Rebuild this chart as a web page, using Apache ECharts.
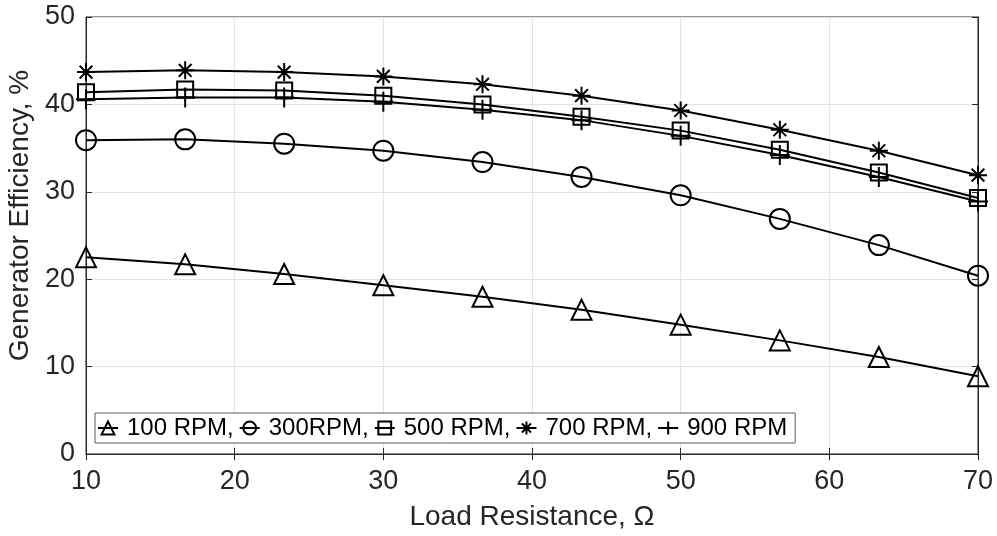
<!DOCTYPE html>
<html><head><meta charset="utf-8">
<script src="https://cdn.jsdelivr.net/npm/echarts@6/dist/echarts.min.js"></script>
<style>html,body{margin:0;padding:0;background:#fff}#c{width:997px;height:536px}</style>
</head><body><div id="c"></div>
<script>
var resistance = [10, 16.67, 23.33, 30, 36.67, 43.33, 50, 56.67, 63.33, 70];
var rpm100 = [22.5, 21.7, 20.6, 19.3, 18.0, 16.5, 14.8, 13.0, 11.1, 8.9];
var rpm300 = [35.9, 36.0, 35.5, 34.7, 33.4, 31.7, 29.6, 26.9, 23.9, 20.4];
var rpm500 = [41.4, 41.7, 41.6, 41.0, 40.0, 38.6, 37.0, 34.8, 32.2, 29.3];
var rpm700 = [43.7, 43.9, 43.7, 43.2, 42.3, 41.0, 39.3, 37.1, 34.7, 31.9];
var rpm900 = [40.6, 40.8, 40.8, 40.3, 39.4, 38.2, 36.4, 34.2, 31.7, 28.9];
var seriesNames = ['100 RPM,', '300RPM,', '500 RPM,', '700 RPM,', '900 RPM'];
var xTicks = [10, 20, 30, 40, 50, 60, 70];
var yTicks = [0, 10, 20, 30, 40, 50];

var FONT = 'Liberation Sans';
var AX = '#262626';
function pairs(v){ return resistance.map(function(x,i){return [x, v[i]];}); }
var plusPath = 'path://M0,-10L0,10M-10,0L10,0';
var starPath = 'path://M0,-10L0,10M-10,0L10,0M-7.07,-7.07L7.07,7.07M-7.07,7.07L7.07,-7.07';
function mk(name, data, symbol, size){
  return {
    name: name, type: 'line', data: pairs(data), symbol: symbol, symbolSize: size,
    showAllSymbol: true,
    lineStyle: {color: '#000', width: 2},
    itemStyle: {color: 'rgba(255,255,255,0)', borderColor: '#000', borderWidth: 2},
    emphasis: {disabled: true}, animation: false, z: 3
  };
}
var chart = echarts.init(document.getElementById('c'));
chart.setOption({
  animation: false,
  grid: {left: 86, right: 19, top: 17, bottom: 82, outerBoundsMode: 'none', containLabel: false,
    show: true, borderColor: AX, borderWidth: 1, backgroundColor: '#fff'},
  legend: {
    data: seriesNames, left: 95, top: 413, orient: 'horizontal',
    itemWidth: 20, itemHeight: 16, itemGap: 5,
    padding: [3, 8, 3, 2],
    borderColor: '#5a5a5a', borderWidth: 1, backgroundColor: '#fff',
    textStyle: {fontFamily: FONT, fontSize: 24, color: '#000', padding: [0,0,0,4]}
  },
  xAxis: [{
    type: 'value', min: 10, max: 70, interval: 10,
    name: 'Load Resistance, Ω', nameLocation: 'middle', nameGap: 49,
    nameTextStyle: {fontFamily: FONT, fontSize: 28, color: AX},
    axisLine: {show: true, lineStyle: {color: AX, width: 1}},
    axisTick: {show: true, inside: true, length: 6, lineStyle: {color: AX}},
    axisLabel: {fontFamily: FONT, fontSize: 27, color: AX, margin: 14,
      formatter: function(v){ return xTicks.indexOf(v) >= 0 ? String(v) : ''; }},
    splitLine: {show: true, lineStyle: {color: '#e3e3e3', width: 1}}
  }, {
    type: 'value', position: 'top', min: 10, max: 70, interval: 10,
    axisLine: {show: true, lineStyle: {color: AX}},
    axisTick: {show: true, inside: true, length: 6, lineStyle: {color: AX}},
    axisLabel: {show: false}, splitLine: {show: false}
  }],
  yAxis: [{
    type: 'value', min: 0, max: 50, interval: 10,
    name: 'Generator Efficiency, %', nameLocation: 'middle', nameGap: 43,
    nameTextStyle: {fontFamily: FONT, fontSize: 28, color: AX, padding: [0, 0, 0, 40]},
    axisLine: {show: true, lineStyle: {color: AX, width: 1}},
    axisTick: {show: true, inside: true, length: 6, lineStyle: {color: AX}},
    axisLabel: {fontFamily: FONT, fontSize: 27, color: AX, margin: 11,
      formatter: function(v){ return yTicks.indexOf(v) >= 0 ? String(v) : ''; }},
    splitLine: {show: true, lineStyle: {color: '#e3e3e3', width: 1}}
  }, {
    type: 'value', position: 'right', min: 0, max: 50, interval: 10,
    axisLine: {show: true, lineStyle: {color: AX}},
    axisTick: {show: true, inside: true, length: 6, lineStyle: {color: AX}},
    axisLabel: {show: false}, splitLine: {show: false}
  }],
  series: [
    mk(seriesNames[0], rpm100, 'triangle', 20),
    mk(seriesNames[1], rpm300, 'circle', 20),
    mk(seriesNames[2], rpm500, 'rect', 16),
    mk(seriesNames[3], rpm700, starPath, 18),
    mk(seriesNames[4], rpm900, plusPath, 20)
  ]
});
</script></body></html>
